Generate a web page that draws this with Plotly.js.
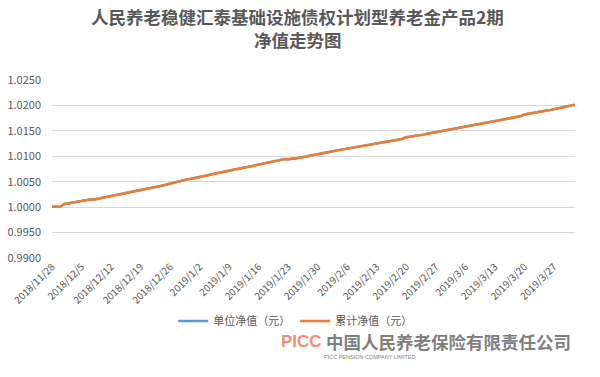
<!DOCTYPE html>
<html>
<head>
<meta charset="utf-8">
<script src="https://cdn.plot.ly/plotly-3.0.1.min.js"></script>
<style>html,body{margin:0;padding:0;background:#fff;}#chart{width:600px;height:377px;}</style>
</head>
<body>
<div id="chart"></div>
<script>
const dates = [
"2018-11-28","2018-11-29","2018-11-30",
"2018-12-01","2018-12-02","2018-12-03","2018-12-04","2018-12-05","2018-12-06","2018-12-07","2018-12-08","2018-12-09","2018-12-10",
"2018-12-11","2018-12-12","2018-12-13","2018-12-14","2018-12-15","2018-12-16","2018-12-17","2018-12-18","2018-12-19","2018-12-20",
"2018-12-21","2018-12-22","2018-12-23","2018-12-24","2018-12-25","2018-12-26","2018-12-27","2018-12-28","2018-12-29","2018-12-30","2018-12-31",
"2019-01-01","2019-01-02","2019-01-03","2019-01-04","2019-01-05","2019-01-06","2019-01-07","2019-01-08","2019-01-09","2019-01-10",
"2019-01-11","2019-01-12","2019-01-13","2019-01-14","2019-01-15","2019-01-16","2019-01-17","2019-01-18","2019-01-19","2019-01-20",
"2019-01-21","2019-01-22","2019-01-23","2019-01-24","2019-01-25","2019-01-26","2019-01-27","2019-01-28","2019-01-29","2019-01-30","2019-01-31",
"2019-02-01","2019-02-02","2019-02-03","2019-02-04","2019-02-05","2019-02-06","2019-02-07","2019-02-08","2019-02-09","2019-02-10",
"2019-02-11","2019-02-12","2019-02-13","2019-02-14","2019-02-15","2019-02-16","2019-02-17","2019-02-18","2019-02-19","2019-02-20",
"2019-02-21","2019-02-22","2019-02-23","2019-02-24","2019-02-25","2019-02-26","2019-02-27","2019-02-28",
"2019-03-01","2019-03-02","2019-03-03","2019-03-04","2019-03-05","2019-03-06","2019-03-07","2019-03-08","2019-03-09","2019-03-10",
"2019-03-11","2019-03-12","2019-03-13","2019-03-14","2019-03-15","2019-03-16","2019-03-17","2019-03-18","2019-03-19","2019-03-20",
"2019-03-21","2019-03-22","2019-03-23","2019-03-24","2019-03-25","2019-03-26","2019-03-27","2019-03-28","2019-03-29","2019-03-30","2019-03-31",
"2019-04-01"
];
const unitNav = [
1.00010,1.00010,1.00012,1.00062,1.00078,1.00092,1.00108,1.00124,1.00140,1.00150,
1.00152,1.00168,1.00186,1.00202,1.00220,1.00238,1.00254,1.00270,1.00284,1.00296,
1.00312,1.00328,1.00346,1.00366,1.00386,1.00404,1.00420,1.00440,1.00462,1.00492,
1.00515,1.00530,1.00546,1.00560,1.00574,1.00592,1.00610,1.00628,1.00646,1.00664,
1.00694,1.00706,1.00718,1.00734,1.00750,1.00768,1.00786,1.00804,1.00822,1.00840,
1.00858,1.00874,1.00892,1.00910,1.00928,1.00940,1.00942,1.00944,1.00960,1.00978,
1.00996,1.01012,1.01028,1.01044,1.01058,1.01074,1.01090,1.01106,1.01120,1.01134,
1.01150,1.01164,1.01180,1.01196,1.01210,1.01226,1.01240,1.01254,1.01268,1.01282,
1.01296,1.01310,1.01326,1.01340,1.01374,1.01384,1.01396,1.01410,1.01426,1.01442,
1.01458,1.01474,1.01490,1.01504,1.01520,1.01536,1.01552,1.01568,1.01584,1.01600,
1.01614,1.01628,1.01644,1.01660,1.01676,1.01694,1.01710,1.01726,1.01742,1.01756,
1.01770,1.01786,1.01820,1.01832,1.01848,1.01864,1.01878,1.01894,1.01908,1.01922,
1.01938,1.01958,1.01978,1.01996,1.02014
];
const cumNav = unitNav.slice();
const seriesNames = ["单位净值（元）","累计净值（元）"];
const titleLines = ["人民养老稳健汇泰基础设施债权计划型养老金产品2期", "净值走势图"];
const logoMark = "PICC";
const logoCn = "中国人民养老保险有限责任公司";
const logoEn = "PICC PENSION COMPANY LIMITED";

const font = "'Noto Sans CJK SC', 'Noto Sans', sans-serif";
const traces = [
  {x: dates, y: unitNav, name: seriesNames[0], type: "scatter", mode: "lines",
   line: {color: "#5B9BD5", width: 2.5}},
  {x: dates, y: cumNav, name: seriesNames[1], type: "scatter", mode: "lines",
   line: {color: "#ED7D31", width: 2.5}}
];
// paper y: 0 -> 258px, 1 -> 80px  (178 px per unit)
const py = p => (258 - p) / 178;
const layout = {
  width: 600, height: 377,
  margin: {l: 52, r: 25, t: 80, b: 119},
  paper_bgcolor: "#fff", plot_bgcolor: "#fff",
  font: {family: font, color: "#595959"},
  xaxis: {type: "date", range: ["2018-11-28", "2019-04-01"],
          tick0: "2018-11-28", dtick: 7 * 86400000, tickformat: "%Y/%-m/%-d",
          tickangle: -45, tickfont: {size: 10, color: "#595959"},
          showgrid: false, showline: false, zeroline: false, ticks: ""},
  yaxis: {range: [0.99, 1.025], dtick: 0.005, tickformat: ".4f",
          tickfont: {size: 11, color: "#595959"}, ticklabelstandoff: 10,
          showgrid: true, gridcolor: "#D9D9D9", gridwidth: 1,
          zeroline: false, showline: false, ticks: "", automargin: false},
  showlegend: true,
  legend: {orientation: "h", x: 0.465, xanchor: "center", y: py(321), yanchor: "middle",
           font: {size: 11, color: "#595959"}, itemwidth: 30, tracegroupgap: 0},
  annotations: [
    {xref: "paper", yref: "paper", x: 0.47, y: py(17), xanchor: "center", yanchor: "middle",
     text: "<b>" + titleLines[0] + "</b>", showarrow: false, font: {family: font, size: 17.5, color: "#595959"}},
    {xref: "paper", yref: "paper", x: 0.47, y: py(40), xanchor: "center", yanchor: "middle",
     text: "<b>" + titleLines[1] + "</b>", showarrow: false, font: {family: font, size: 17.5, color: "#595959"}},
    {xref: "paper", yref: "paper", x: -0.05, y: py(341), xanchor: "left", yanchor: "middle",
     xshift: 253, text: "<b>" + logoMark + "</b>", showarrow: false,
     font: {family: "'Liberation Sans', Arial, sans-serif", size: 17, color: "#F08E75"}},
    {xref: "paper", yref: "paper", x: -0.05, y: py(341), xanchor: "left", yanchor: "middle",
     xshift: 298, text: "<b>" + logoCn + "</b>", showarrow: false, font: {family: font, size: 17.5, color: "#7F7F7F"}},
    {xref: "paper", yref: "paper", x: -0.05, y: py(357), xanchor: "left", yanchor: "middle",
     xshift: 296, text: logoEn, showarrow: false, font: {family: "'Liberation Sans', Arial, sans-serif", size: 5.5, color: "#7F7F7F"}}
  ]
};
Plotly.newPlot("chart", traces, layout, {displayModeBar: false, staticPlot: true});
</script>
</body>
</html>
